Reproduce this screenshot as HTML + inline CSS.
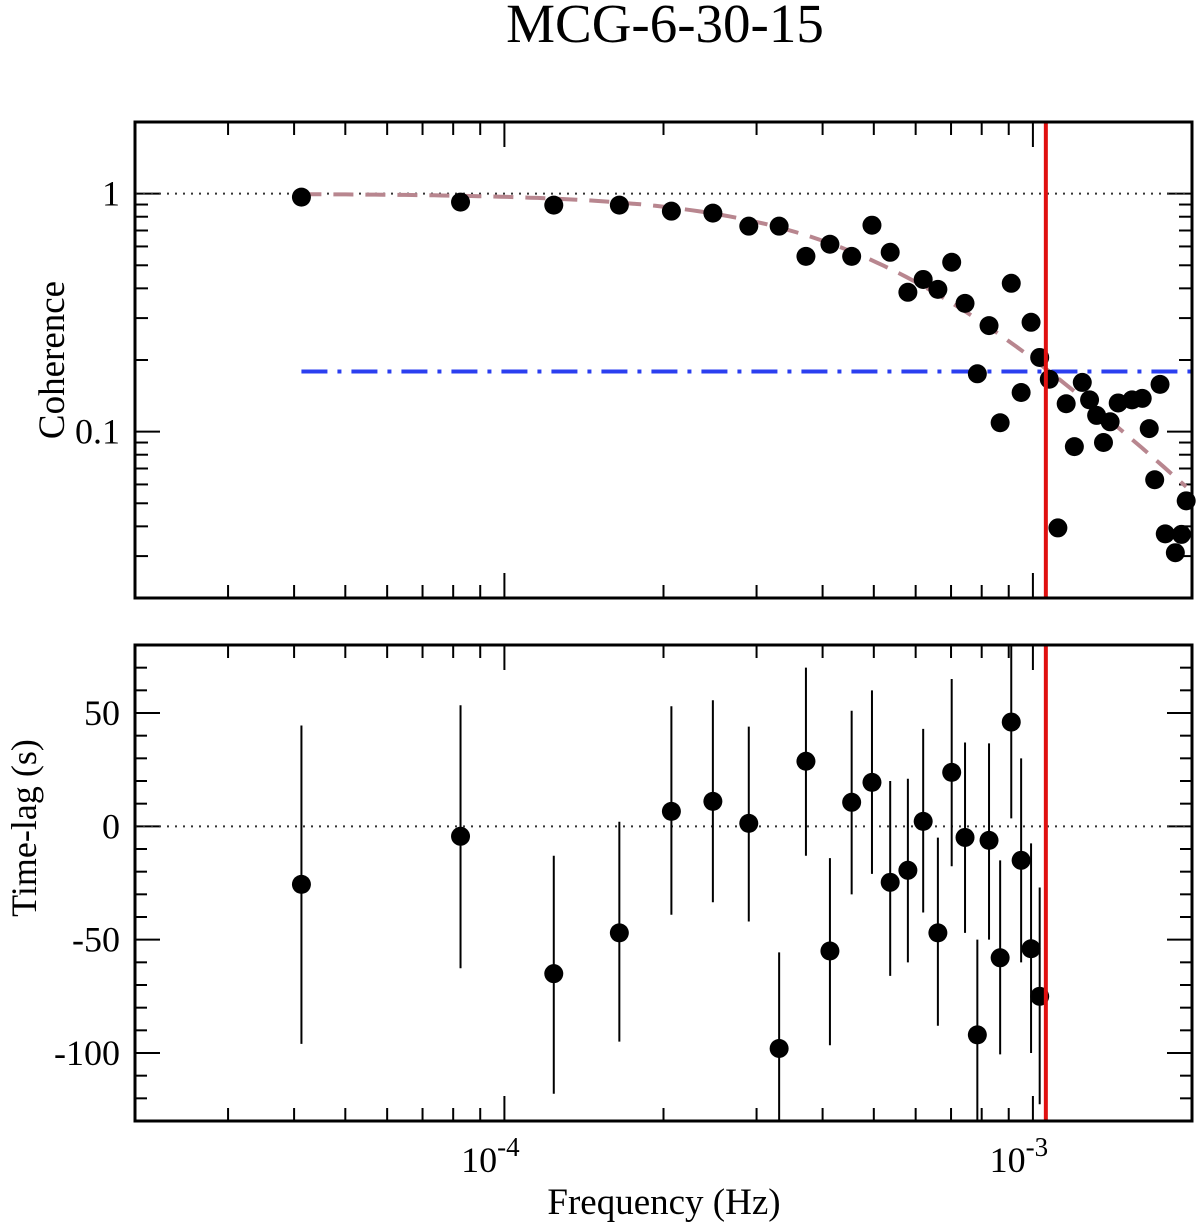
<!DOCTYPE html>
<html><head><meta charset="utf-8"><style>
html,body{margin:0;padding:0;background:#fff;}
svg{display:block;font-family:"Liberation Serif",serif;}
</style></head><body>
<svg id="chart" width="1200" height="1224" viewBox="0 0 1200 1224" xmlns="http://www.w3.org/2000/svg">
<text x="665" y="42" font-size="55" text-anchor="middle">MCG-6-30-15</text>
<text transform="translate(64,360) rotate(-90)" font-size="37" text-anchor="middle">Coherence</text>
<text transform="translate(36,828) rotate(-90)" font-size="36" text-anchor="middle">Time-lag (s)</text>
<text x="664" y="1214" font-size="37" text-anchor="middle">Frequency (Hz)</text>
</svg>
<script>
// ---- data ----
const cohFreq = [4.13e-5,8.26e-5,1.24e-4,1.65e-4,2.07e-4,2.48e-4,2.90e-4,3.31e-4,3.72e-4,4.13e-4,4.54e-4,4.96e-4,5.37e-4,5.80e-4,6.20e-4,6.61e-4,7.02e-4,7.44e-4,7.85e-4,8.26e-4,8.67e-4,9.10e-4,9.50e-4,9.92e-4,1.03e-3,1.074e-3,1.115e-3,1.156e-3,1.198e-3,1.24e-3,1.28e-3,1.32e-3,1.36e-3,1.40e-3,1.45e-3,1.54e-3,1.61e-3,1.66e-3,1.70e-3,1.74e-3,1.78e-3,1.86e-3,1.91e-3,1.95e-3];
const cohValue = [0.967,0.921,0.895,0.895,0.844,0.828,0.730,0.730,0.545,0.613,0.545,0.737,0.567,0.385,0.436,0.396,0.515,0.346,0.175,0.279,0.109,0.420,0.146,0.288,0.205,0.166,0.0394,0.131,0.0865,0.161,0.136,0.117,0.090,0.110,0.132,0.136,0.138,0.103,0.0628,0.158,0.0372,0.031,0.037,0.0512];
const lagFreq = [4.13e-5,8.26e-5,1.24e-4,1.65e-4,2.07e-4,2.48e-4,2.90e-4,3.31e-4,3.72e-4,4.13e-4,4.54e-4,4.96e-4,5.37e-4,5.80e-4,6.20e-4,6.61e-4,7.02e-4,7.44e-4,7.85e-4,8.26e-4,8.67e-4,9.10e-4,9.50e-4,9.92e-4,1.03e-3];
const lagValue = [-25.6,-4.4,-65,-47,6.6,11,1.3,-98,28.7,-55,10.6,19.4,-24.7,-19.4,2.2,-47,23.8,-4.9,-92,-6.2,-58,46,-15,-54,-75];
const lagUpper = [44.5,53.4,-13,2,53,55.6,44,-55.6,70,-14,51,60,20,21,43,-5,65,37,-50,36.6,-15,85,30,-7.5,-27];
const lagLower = [-96,-62.6,-118,-95,-39,-33.5,-42,-140,-13,-96.6,-30,-21,-66,-60,-38,-88,-17.6,-47,-140,-50,-100.6,3.5,-60,-100,-122.6];
const fitF0 = 5.2e-4, fitPow = 2.1;
const cohThreshold = 0.179;
const markerFreq = 1.058e-3;
const xTickLabels = ["-4","-3"];
const cohTickLabels = ["1","0.1"];
const lagTickLabels = ["50","0","-50","-100"];

// ---- axes ----
const L=135,R=1192, T1=122,B1=598, T2=645,B2=1121;
const xmin=Math.log10(2e-5), xmax=Math.log10(2e-3);
const X=f=>L+(Math.log10(f)-xmin)/(xmax-xmin)*(R-L);
const ymin1=Math.log10(0.02), ymax1=Math.log10(2);
const Y1=v=>B1-(Math.log10(v)-ymin1)/(ymax1-ymin1)*(B1-T1);
const Y2=v=>B2-(v-(-130))/(80-(-130))*(B2-T2);
const svg=document.getElementById('chart');
const NS='http://www.w3.org/2000/svg';
function mk(tag,attrs,parent){const e=document.createElementNS(NS,tag);for(const k in attrs)e.setAttribute(k,attrs[k]);(parent||svg).appendChild(e);return e;}
function line(x1,y1,x2,y2,st,w,parent){return mk('line',{x1,y1,x2,y2,stroke:st||'#000','stroke-width':w||2},parent);}

function panel(top,bot,name){
  const g=mk('g',{});
  
  
  for(let d=-5;d<=-3;d++){for(let m=1;m<=9;m++){const f=m*Math.pow(10,d);if(f<2e-5*0.999||f>2e-3*1.001)continue;const x=X(f);const len=m===1?25:13;line(x,bot,x,bot-len,'#000',2,g);line(x,top,x,top+len,'#000',2,g);}}
  return g;
}
const gTop=panel(T1,B1,'coherence-panel');
const gBot=panel(T2,B2,'timelag-panel');
for(let d=-2;d<=0;d++){for(let m=1;m<=9;m++){const v=m*Math.pow(10,d);if(v<0.02*0.999||v>2.001)continue;const y=Y1(v);const len=m===1?25:13;line(L,y,L+len,y,'#000',2,gTop);line(R,y,R-len,y,'#000',2,gTop);}}
for(let v=-130;v<=80;v+=10){const y=Y2(v);const len=(v%50===0)?25:12;line(L,y,L+len,y,'#000',2,gBot);line(R,y,R-len,y,'#000',2,gBot);}
[1,0.1].forEach((v,i)=>{const t=mk('text',{x:120,y:Y1(v)+12,'font-size':36,'text-anchor':'end'});t.textContent=cohTickLabels[i];});
[50,0,-50,-100].forEach((v,i)=>{const t=mk('text',{x:120,y:Y2(v)+12,'font-size':36,'text-anchor':'end'});t.textContent=lagTickLabels[i];});
[1e-4,1e-3].forEach((f,i)=>{const t=mk('text',{x:X(f)-14,y:1172,'font-size':36,'text-anchor':'middle'});t.textContent='10';const s=mk('tspan',{dy:-16,'font-size':27},t);s.textContent=xTickLabels[i];});

const r1=line(L,Y1(1),R,Y1(1),'#333',2);r1.setAttribute('stroke-dasharray','2,6');


const r0=line(L,Y2(0),R,Y2(0),'#333',2);r0.setAttribute('stroke-dasharray','2,6');


const th=line(X(cohFreq[0]),Y1(cohThreshold),R,Y1(cohThreshold),'#2b3ff0',4);th.setAttribute('stroke-dasharray','26,10,4,10');


let pts=[];const f1=cohFreq[0],f2=1.95e-3;for(let i=0;i<=120;i++){const f=f1*Math.pow(f2/f1,i/120);const v=1/(1+Math.pow(f/fitF0,fitPow));pts.push(X(f).toFixed(1)+','+Y1(v).toFixed(1));}
const fit=mk('polyline',{points:pts.join(' '),fill:'none',stroke:'#b8868f','stroke-width':4,'stroke-dasharray':'20,12'});


cohFreq.forEach((f,i)=>{const c=mk('circle',{cx:X(f),cy:Y1(cohValue[i]),r:9.5,fill:'#000'});

});
lagFreq.forEach((f,i)=>{const x=X(f);const up=Math.min(lagUpper[i],80),lo=Math.max(lagLower[i],-130);
const e=line(x,Y2(up),x,Y2(lo),'#000',2);


const c=mk('circle',{cx:x,cy:Y2(lagValue[i]),r:9.5,fill:'#000'});

});
[[T1,B1],[T2,B2]].forEach(([a,b])=>{const m=line(X(markerFreq),a,X(markerFreq),b,'#e01010',4);

});
[[T1,B1,'coherence-frame'],[T2,B2,'timelag-frame']].forEach(([a,b,n])=>{const r=mk('rect',{x:L,y:a,width:R-L,height:b-a,fill:'none',stroke:'#000','stroke-width':3});

});
</script>
</body></html>
